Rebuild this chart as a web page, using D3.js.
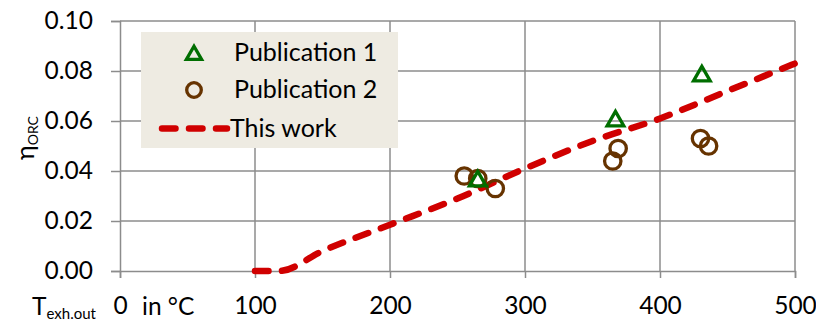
<!DOCTYPE html>
<html><head><meta charset="utf-8">
<script src="https://cdn.jsdelivr.net/npm/d3@7"></script>
<style>body{margin:0;background:#fff}svg{display:block}text{font-family:Lato,"Noto Sans",sans-serif;fill:#000}</style>
</head><body>
<svg id="c" width="816" height="323"></svg>
<script>
const xTicks = [0, 100, 200, 300, 400, 500];
const yTicks = [0, 0.02, 0.04, 0.06, 0.08, 0.10];
const pub1X = [265, 367, 431];
const pub1Y = [0.036, 0.060, 0.078];
const pub2X = [255, 265, 278, 365, 369, 430, 436];
const pub2Y = [0.038, 0.037, 0.033, 0.044, 0.049, 0.053, 0.050];
const workX = [100, 118, 150, 200, 250, 300, 350, 400, 450, 500];
const workY = [0, 0, 0.008, 0.0185, 0.029, 0.041, 0.052, 0.061, 0.072, 0.083];
const legendLabels = ["Publication 1", "Publication 2", "This work"];

const svg = d3.select("#c");
const x = d3.scaleLinear().domain([0, 500]).range([120, 795]);
const y = d3.scaleLinear().domain([0, 0.10]).range([271, 21]);
const grid = "#8c8c8c";
const red = "#d00000", green = "#006e00", brown = "#663300";

// gridlines
svg.append("g").selectAll("line").data(yTicks.slice(1)).join("line")
  .attr("x1", x(0)).attr("x2", x(500)).attr("y1", d => y(d)).attr("y2", d => y(d))
  .attr("stroke", grid).attr("stroke-width", 1.5);
svg.append("g").selectAll("line").data(xTicks.slice(1)).join("line")
  .attr("x1", d => x(d)).attr("x2", d => x(d)).attr("y1", y(0)).attr("y2", y(0.10))
  .attr("stroke", grid).attr("stroke-width", 1.5);

// axes
const yAxis = svg.append("g").attr("transform", `translate(${x(0)},0)`)
  .call(d3.axisLeft(y).tickValues(yTicks).tickFormat(d3.format(".2f")).tickSize(9).tickPadding(18));
const xAxis = svg.append("g").attr("transform", `translate(0,${y(0)})`)
  .call(d3.axisBottom(x).tickValues(xTicks).tickSize(7).tickPadding(19));
[yAxis, xAxis].forEach(a => {
  a.select(".domain").attr("stroke", grid).attr("stroke-width", 1.5);
  a.selectAll(".tick line").attr("stroke", grid).attr("stroke-width", 1.5);
  a.selectAll("text").style("font-size", "24.5px").attr("fill", "#000");
});

// axis titles
const yl = svg.append("text").attr("transform", "translate(34,138) rotate(-90)")
  .attr("text-anchor", "middle").style("font-size", "25px");
yl.append("tspan").text("η");
yl.append("tspan").text("ORC").style("font-size", "14px").attr("dy", 4);

const xl = svg.append("text").attr("x", 32).attr("y", 314.5).style("font-size", "24.5px");
xl.append("tspan").text("T");
xl.append("tspan").text("exh.out").style("font-size", "15px").attr("dy", 4);
svg.append("text").attr("x", 142).attr("y", 314.5).style("font-size", "24.5px").text("in °C");

// this work line
const line = d3.line().x(d => x(d[0])).y(d => y(d[1])).curve(d3.curveMonotoneX);
svg.append("path").datum(workX.map((v, i) => [v, workY[i]])).attr("d", line)
  .attr("fill", "none").attr("stroke", red).attr("stroke-width", 6.5)
  .attr("stroke-linecap", "round").attr("stroke-dasharray", "13.5,13.5");

// markers
const tri = d3.symbol().type(d3.symbolTriangle).size(120);
svg.append("g").selectAll("circle").data(pub2X.map((v, i) => [v, pub2Y[i]])).join("circle")
  .attr("cx", d => x(d[0])).attr("cy", d => y(d[1])).attr("r", 8.2)
  .attr("fill", "none").attr("stroke", brown).attr("stroke-width", 3.3);
svg.append("g").selectAll("path").data(pub1X.map((v, i) => [v, pub1Y[i]])).join("path")
  .attr("d", tri).attr("transform", d => `translate(${x(d[0])},${y(d[1])})`)
  .attr("fill", "none").attr("stroke", green).attr("stroke-width", 3.3);

// legend
const lg = svg.append("g");
lg.append("rect").attr("x", 141).attr("y", 32).attr("width", 257).attr("height", 116).attr("fill", "#eeebe2");
lg.append("path").attr("d", d3.symbol().type(d3.symbolTriangle).size(100)).attr("transform", "translate(194,55)")
  .attr("fill", "none").attr("stroke", green).attr("stroke-width", 3.3);
lg.append("circle").attr("cx", 194).attr("cy", 90).attr("r", 7.3)
  .attr("fill", "none").attr("stroke", brown).attr("stroke-width", 3.3);
lg.append("line").attr("x1", 162).attr("x2", 227).attr("y1", 128.5).attr("y2", 128.5)
  .attr("stroke", red).attr("stroke-width", 6.5).attr("stroke-linecap", "round").attr("stroke-dasharray", "13.5,13.5");
lg.selectAll("text").data(legendLabels).join("text")
  .attr("x", (d, i) => i === 2 ? 230 : 234).attr("y", (d, i) => [61, 98, 136.5][i])
  .style("font-size", "25px").text(d => d);
</script>
</body></html>
